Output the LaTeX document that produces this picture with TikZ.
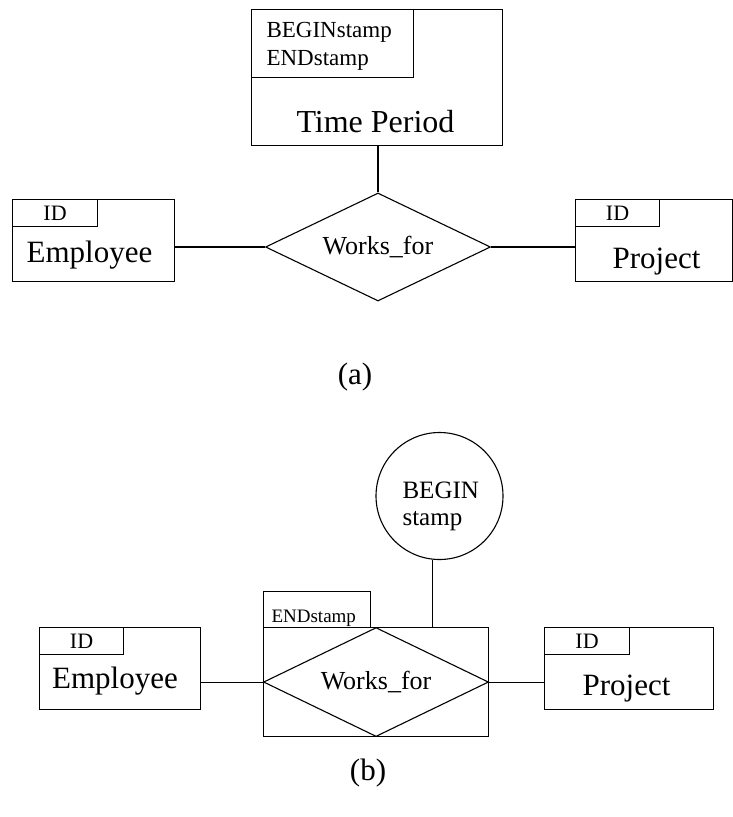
\documentclass[tikz,border=0pt]{standalone}
\usepackage{fontspec}
\setmainfont{Liberation Serif}
\usetikzlibrary{shapes.geometric}
\begin{document}
\begin{tikzpicture}[x=1pt, y=-1pt, line width=1.1pt,
  box/.style={draw, rectangle, inner sep=0pt, anchor=north west},
  rel/.style={draw, diamond, aspect=2.08, inner sep=0pt},
  big/.style={font=\fontsize{31}{36}\selectfont, inner sep=0pt},
  mid/.style={font=\fontsize{26}{30}\selectfont},
  small/.style={font=\fontsize{22}{26}\selectfont}
]
\useasboundingbox (0,0) rectangle (733,817);

% (a) time period as an entity
\node[box, minimum width=251pt, minimum height=136pt] (tp) at (251,9) {};
\node[box, minimum width=162pt, minimum height=68pt] (tpkey) at (251,9) {};
\node[font=\fontsize{23}{28}\selectfont, anchor=base west, inner sep=0pt] (tpbeg) at (266,37) {BEGINstamp};
\node[font=\fontsize{23}{28}\selectfont, anchor=base west, inner sep=0pt] (tpend) at (266,65) {ENDstamp};
\node[big, font=\fontsize{32}{38}\selectfont, anchor=base] (tpt) at (375.5,132) {Time Period};
\node[rel, mid, minimum width=225pt, minimum height=108pt] (wf) at (378,247) {Works\_for};

\node[box, minimum width=162pt, minimum height=82pt] (emp) at (12,199) {};
\node[box, small, minimum width=85pt, minimum height=27pt] (empid) at (12,199) {ID};
\node[big, anchor=base] (empt) at (89.5,262) {Employee};

\node[box, minimum width=157pt, minimum height=82pt] (prj) at (575,199) {};
\node[box, small, minimum width=84pt, minimum height=27pt] (prjid) at (575,199) {ID};
\node[big, anchor=base] (prjt) at (656.5,268) {Project};

\draw (wf.north |- tp.south) -- (wf.north);
\draw (emp.east |- wf.west) -- (wf.west);
\draw (wf.east) -- (prj.west |- wf.east);

\node[big, anchor=base] (capa) at (355,384) {(a)};

% (b) timestamps on the relationship
\node[draw, circle, minimum size=127pt, inner sep=0pt] (bs) at (439.5,496) {};
\node[font=\fontsize{25}{30}\selectfont, anchor=base west, inner sep=0pt] (bsbeg) at (402,498) {BEGIN};
\node[font=\fontsize{25}{30}\selectfont, anchor=base west, inner sep=0pt] (bsst) at (402,525) {stamp};

\node[box, minimum width=107pt, minimum height=36pt] (endkey) at (263,591) {};
\node[font=\fontsize{19}{23}\selectfont, anchor=base west, inner sep=0pt] (endkeyt) at (271,622) {ENDstamp};
\node[box, minimum width=225pt, minimum height=109pt] (relbox) at (263,627) {};
\node[rel, mid, minimum width=225pt, minimum height=109pt] (wfb) at (relbox.center) {Works\_for};

\node[box, minimum width=161pt, minimum height=82pt] (empb) at (39,627) {};
\node[box, small, minimum width=84pt, minimum height=27pt] (empbid) at (39,627) {ID};
\node[big, anchor=base] (empbt) at (115,688) {Employee};

\node[box, minimum width=169pt, minimum height=82pt] (prjb) at (544,627) {};
\node[box, small, minimum width=85pt, minimum height=27pt] (prjbid) at (544,627) {ID};
\node[big, anchor=base] (prjbt) at (626.5,695) {Project};

\draw (bs.-96) -- (bs.-96 |- relbox.north);
\draw (empb.east |- wfb.west) -- (wfb.west);
\draw (wfb.east) -- (prjb.west |- wfb.east);

\node[big, anchor=base] (capb) at (368,780) {(b)};
\end{tikzpicture}
\end{document}
